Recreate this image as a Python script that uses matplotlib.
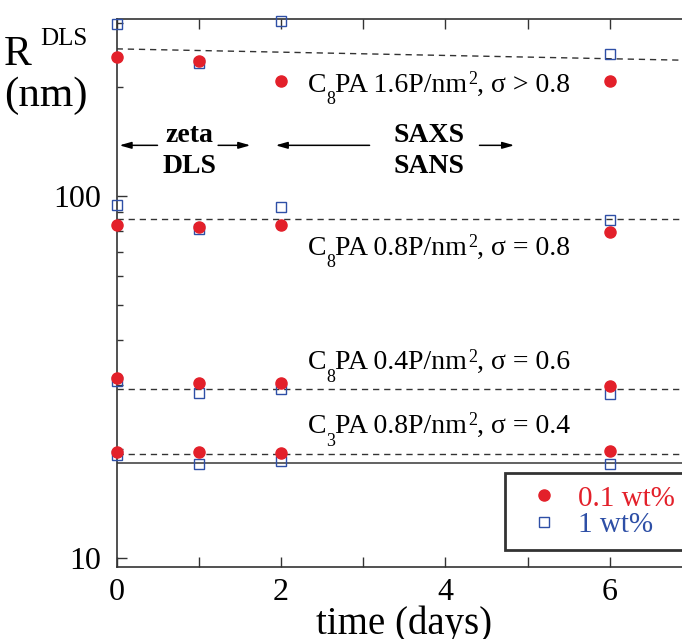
import numpy as np
import matplotlib
matplotlib.use("Agg")
import matplotlib.pyplot as plt
from matplotlib.ticker import FixedLocator, NullFormatter, LogLocator

plt.rcParams['font.family'] = ['Liberation Serif', 'DejaVu Serif']

# time points (days)
days = [0, 1, 2, 6]

# R_DLS (nm), 0.1 wt% (red) and 1 wt% (blue)
c8_16_low = [242, 236, 208, 208]
c8_16_high = [299, 233, 305, 247]
c8_08_low = [83.2, 82.1, 83.2, 79.6]
c8_08_high = [94.4, 81.1, 93.2, 85.9]
c8_04_low = [31.4, 30.4, 30.4, 29.8]
c8_04_high = [30.8, 28.5, 29.3, 28.4]
c3_08_low = [19.6, 19.6, 19.5, 19.7]
c3_08_high = [19.2, 18.2, 18.5, 18.2]

# guide lines
fit_16_x = [0, 7]
fit_16_y = [255, 237]
level_08 = 86.2
level_04 = 29.3
level_c3 = 19.4
solid_level = 18.3

# curve labels: (chain length, grafting density, relation, sigma)
label_n = ['8', '8', '8', '3']
label_dens = ['1.6', '0.8', '0.4', '0.8']
label_rel = ['>', '=', '=', '=']
label_sigma = ['0.8', '0.8', '0.6', '0.4']

red = '#e3202a'
blue = '#2e4fa6'
W, H = 682, 639

fig = plt.figure(figsize=(W / 100, H / 100), dpi=100)
ax = fig.add_axes([116.7 / W, (H - 566.7) / H, 7 * 82.2 / W, (566.7 - 18.7) / H])
ax.set_yscale('log')
ax.set_xlim(0, 7)
ax.set_ylim(9.44, 309)

dash = dict(color='#333333', lw=1.0, ls=(0, (4.5, 3.5)))
ax.plot(fit_16_x, fit_16_y, **dash)
for lev in [level_08, level_04, level_c3]:
    ax.axhline(lev, **dash)
ax.axhline(solid_level, color='#555555', lw=1.3)

for lo, hi in [(c8_16_low, c8_16_high), (c8_08_low, c8_08_high),
               (c8_04_low, c8_04_high), (c3_08_low, c3_08_high)]:
    ax.plot(days, hi, 's', ms=7, mfc='none', mec=blue, mew=1.0, clip_on=False, zorder=3)
    ax.plot(days, lo, 'o', ms=8, color=red, clip_on=False, zorder=4)

# legend entries
h1, = ax.plot([], [], 'o', ms=8, color=red, label='0.1 wt%')
h2, = ax.plot([], [], 's', ms=7, mfc='none', mec=blue, mew=1.0, label='1 wt%')
leg = fig.legend(handles=[h1, h2], loc='upper left', bbox_to_anchor=(505 / W, 1 - 473 / H),
                 borderaxespad=0, fancybox=False, frameon=True, fontsize=21,
                 handletextpad=0.25, handlelength=1.85, borderpad=0.42, labelspacing=0.0)
leg.get_frame().set_edgecolor('black')
leg.get_frame().set_linewidth(2)
leg.get_texts()[0].set_color(red)
leg.get_texts()[1].set_color(blue)


def chem_label(x, y, n, dens, rel, sig):
    # C_n PA dens P/nm^2, sigma rel sig  -- built piece by piece for a low subscript
    t0 = ax.text(x, y, 'C', fontsize=20, ha='left', va='baseline')
    t1 = ax.annotate(n, xy=(1, y), xycoords=(t0, 'data'), xytext=(0.3, -9),
                     textcoords='offset points', fontsize=13, ha='left', va='baseline')
    t2 = ax.annotate('PA %sP/nm' % dens, xy=(1, y), xycoords=(t1, 'data'), xytext=(0, 0),
                     textcoords='offset points', fontsize=20, ha='left', va='baseline')
    t3 = ax.annotate('2', xy=(1, y), xycoords=(t2, 'data'), xytext=(0.5, 5.5),
                     textcoords='offset points', fontsize=13, ha='left', va='baseline')
    ax.annotate(', σ %s %s' % (rel, sig), xy=(1, y), xycoords=(t3, 'data'), xytext=(0, 0),
                textcoords='offset points', fontsize=20, ha='left', va='baseline')


label_y = [194, 68.7, 33.2, 22.1]
for i in range(4):
    chem_label(2.32, label_y[i], label_n[i], label_dens[i], label_rel[i], label_sigma[i])

# technique ranges
arr = dict(arrowstyle='-|>,head_length=0.7,head_width=0.2', color='black', lw=1.1)
ya = 138
ax.annotate('', xy=(0.0, ya), xytext=(0.53, ya), arrowprops=arr)
ax.annotate('', xy=(1.66, ya), xytext=(1.20, ya), arrowprops=arr)
ax.annotate('', xy=(1.90, ya), xytext=(3.11, ya), arrowprops=arr)
ax.annotate('', xy=(4.87, ya), xytext=(4.38, ya), arrowprops=arr)
ax.text(0.88, 141, 'zeta', fontsize=20, fontweight='bold', ha='center', va='baseline')
ax.text(0.88, 115.8, 'DLS', fontsize=20, fontweight='bold', ha='center', va='baseline')
ax.text(3.80, 141, 'SAXS', fontsize=20, fontweight='bold', ha='center', va='baseline')
ax.text(3.80, 115.8, 'SANS', fontsize=20, fontweight='bold', ha='center', va='baseline')

# axes styling
ax.spines['right'].set_visible(False)
for s in ['left', 'top', 'bottom']:
    ax.spines[s].set_color('#333333')
    ax.spines[s].set_linewidth(1.2)

ax.xaxis.set_major_locator(FixedLocator([0, 2, 4, 6]))
ax.xaxis.set_minor_locator(FixedLocator([1, 3, 5, 7]))
ax.yaxis.set_major_locator(FixedLocator([10, 100]))
ax.yaxis.set_minor_locator(LogLocator(base=10, subs=np.arange(2, 10)))
ax.yaxis.set_minor_formatter(NullFormatter())
ax.set_yticklabels(['10', '100'])
ax.tick_params(which='both', direction='in', top=True, right=False, color='#333333',
               width=1.0, labelsize=23)
ax.tick_params(axis='y', which='major', pad=11)
ax.tick_params(axis='x', which='major', pad=8)
ax.tick_params(which='major', length=7)
ax.tick_params(axis='x', which='minor', length=7)
ax.tick_params(axis='y', which='minor', length=4)

ax.set_xlabel('time (days)', fontsize=28, labelpad=-1)

# y label at the top left
fig.text(4 / W, 1 - 65 / H, 'R', fontsize=30, ha='left', va='baseline')
fig.text(40 / W, 1 - 45 / H, 'DLS', fontsize=18, ha='left', va='baseline')
fig.text(4 / W, 1 - 106 / H, '(nm)', fontsize=31, ha='left', va='baseline')

fig.savefig('out.png', dpi=100)
